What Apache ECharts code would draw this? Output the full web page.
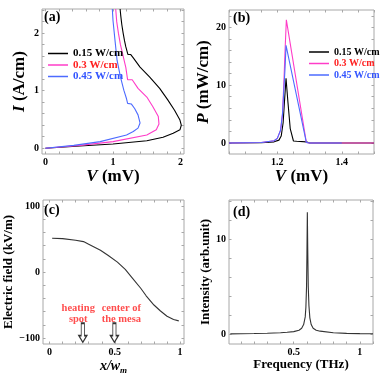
<!DOCTYPE html>
<html><head><meta charset="utf-8">
<script src="https://cdn.jsdelivr.net/npm/echarts@6/dist/echarts.min.js"></script>
<style>html,body{margin:0;padding:0;background:#fff}#c{width:382px;height:381px}</style>
</head><body><div id="c"></div>
<script>
// ---------- data ----------
const seriesNames = ['0.15 W/cm', '0.3 W/cm', '0.45 W/cm'];
// (a) I-V curves
const ivV015 = [0,0.51,1.0,1.5,1.74,1.89,1.99,2.01,1.99,1.91,1.81,1.69,1.54,1.4,1.3,1.26,1.22,1.215,1.19,1.17,1.15,1.13,1.115,1.105];
const ivI015 = [0,0.04,0.075,0.13,0.19,0.26,0.32,0.40,0.49,0.66,0.84,1.04,1.24,1.41,1.57,1.63,1.63,1.66,1.76,1.87,2.0,2.15,2.3,2.42];
const ivV03 = [0,0.51,1.0,1.5,1.64,1.68,1.67,1.59,1.5,1.37,1.284,1.216,1.19,1.15,1.11,1.08,1.055,1.04];
const ivI03 = [0,0.05,0.115,0.23,0.32,0.42,0.55,0.72,0.89,1.04,1.19,1.19,1.4,1.6,1.8,2.0,2.2,2.42];
const ivV045 = [0,0.42,0.81,1.2,1.3,1.37,1.4,1.37,1.32,1.27,1.216,1.2,1.16,1.11,1.06,1.03,1.0,0.99];
const ivI045 = [0,0.05,0.115,0.23,0.29,0.35,0.44,0.58,0.69,0.77,0.78,0.86,1.01,1.24,1.53,1.87,2.22,2.42];
// (b) P-V curves
const pvV015 = [1.05,1.15,1.19,1.205,1.212,1.218,1.222,1.227,1.233,1.24,1.25,1.26,1.29,1.3,1.5];
const pvP015 = [0,0.05,0.2,0.5,1.2,3.5,7,11.2,7,2.5,0.35,0.3,0.2,0,0];
const pvV03 = [1.05,1.15,1.19,1.2,1.21,1.216,1.22,1.224,1.228,1.29,1.3,1.5];
const pvP03 = [0,0.08,0.4,0.8,2.2,5,10,16,21.3,0.1,0,0];
const pvV045 = [1.05,1.15,1.19,1.2,1.21,1.216,1.22,1.224,1.227,1.29,1.3,1.4];
const pvP045 = [0,0.08,0.4,0.8,2.2,5,9,13,16.9,0.1,0,0];
// (c) electric field
const efX = [0.02,0.1,0.2,0.26,0.3,0.39,0.45,0.52,0.58,0.63,0.7,0.74,0.8,0.85,0.9,0.95,0.99];
const efY = [51,50.5,48,46,42,33,25,15,4,-8,-25,-36,-50,-59,-67,-72,-74];
const annoText = ['heating\nspot', 'center of\nthe mesa'];
const annoX = [0.22, 0.55];
const annoY = [-63, -63];
const arrowX = [0.255, 0.497];
const arrowY = [-92, -92];
// (d) spectrum
const fqX = [0.02,0.1,0.2,0.3,0.4,0.45,0.5,0.54,0.56,0.575,0.587,0.592,0.597,0.6,0.603,0.606,0.61,0.615,0.622,0.632,0.647,0.67,0.7,0.8,0.9,1.0,1.1];
const fqY = [0.02,0.03,0.05,0.08,0.13,0.18,0.25,0.4,0.6,1.0,1.8,2.8,5,8.5,12.8,9,5,3,1.7,1.0,0.6,0.4,0.3,0.13,0.07,0.04,0.03];
// tick labels
const aXLabels = [0,1,2], aYLabels = [0,1,2];
const bXLabels = [1.2,1.4], bYLabels = [0,10,20];
const cXLabels = [0,0.5,1], cYLabels = [-100,0,100];
const dXLabels = [0.5,1], dYLabels = [0,10];

// ---------- helpers ----------
const FONT = 'Liberation Serif';
const FRAME = '#a8a8a8';
function range(a, b, s) { const r = []; for (let v = a; v <= b + 1e-9; v += s) r.push(+v.toFixed(6)); return r; }
function fmt(v) { return v < 0 ? '\u2212' + Math.abs(v) : String(v); }
function pairs(xs, ys) { return xs.map((x, i) => [x, ys[i]]); }
function nameStyle(sz) {
  return { fontFamily: FONT, fontWeight: 'bold', fontSize: sz, color: '#000',
    rich: { i: { fontFamily: FONT, fontWeight: 'bold', fontStyle: 'italic', fontSize: sz },
            s: { fontFamily: FONT, fontWeight: 'bold', fontStyle: 'italic', fontSize: 9, verticalAlign: 'bottom', padding: [8, 0, 0, 0] } } };
}
function xAx(g, min, max, labels, ticks, name, gap, sz, top) {
  return { type: 'value', gridIndex: g, min, max, position: top ? 'top' : 'bottom',
    axisLine: { show: false, onZero: false }, splitLine: { show: false },
    axisTick: { show: true, inside: true, length: 2.5, lineStyle: { color: FRAME }, customValues: ticks },
    axisLabel: { show: !top, customValues: labels, formatter: fmt, color: '#000', fontFamily: FONT, fontWeight: 'bold', fontSize: 10, margin: 3 },
    name: top ? '' : name, nameLocation: 'middle', nameGap: gap, nameTextStyle: nameStyle(sz || 14) };
}
function yAx(g, min, max, labels, ticks, name, gap, sz, right) {
  return { type: 'value', gridIndex: g, min, max, position: right ? 'right' : 'left',
    axisLine: { show: false, onZero: false }, splitLine: { show: false },
    axisTick: { show: true, inside: true, length: 2.5, lineStyle: { color: FRAME }, customValues: ticks },
    axisLabel: { show: !right, customValues: labels, formatter: fmt, color: '#000', fontFamily: FONT, fontWeight: 'bold', fontSize: 10, margin: 3 },
    name: right ? '' : name, nameLocation: 'middle', nameRotate: 90, nameGap: gap, nameTextStyle: nameStyle(sz || 14) };
}
const COL = ['#000000', '#ff3cc8', '#4d6bff'];
const LEGTXT = ['#000000', '#ff2020', '#3355ff'];
function line(name, g, data, color) {
  return { type: 'line', name, xAxisIndex: g, yAxisIndex: g, data, showSymbol: false, symbol: 'none',
    lineStyle: { color, width: 1.1 }, itemStyle: { color }, animation: false };
}
const grids = [
  { left: 42, top: 9, width: 142, height: 145 },
  { left: 229, top: 10, width: 145, height: 144 },
  { left: 43, top: 200, width: 141, height: 144 },
  { left: 229, top: 200, width: 144, height: 144 }
].map(g => Object.assign(g, { show: true, borderColor: FRAME, borderWidth: 1, backgroundColor: '#fff' }));

const aX = [-0.05, 2.05], aY = [-0.1, 2.42];
const bX = [1.05, 1.5], bY = [-1.9, 23];
const cX = [-0.05, 1.03], cY = [-109, 109];
const dX = [0.01, 1.1], dY = [-1.05, 14.1];
const ticks = {
  ax: range(0, 2, 0.2), ay: range(0, 2.4, 0.2),
  bx: range(1.05, 1.5, 0.05), by: range(0, 22, 2),
  cx: range(0, 1, 0.1), cy: range(-100, 100, 20),
  dx: range(0.1, 1.1, 0.1), dy: range(0, 14, 2)
};
const legendBase = { orient: 'vertical', icon: 'rect', itemWidth: 20, itemHeight: 1.5, itemGap: 0.5, padding: 0 };
const legData = seriesNames.map((n, i) => ({ name: n, textStyle: { color: LEGTXT[i] } }));
const titleStyle = { fontFamily: FONT, fontWeight: 'bold', fontSize: 14, color: '#000' };

const option = {
  backgroundColor: '#fff',
  animation: false,
  title: [
    { text: '(a)', left: 44, top: 10, padding: 0, textStyle: titleStyle },
    { text: '(b)', left: 233, top: 11, padding: 0, textStyle: titleStyle },
    { text: '(c)', left: 44, top: 203, padding: 0, textStyle: titleStyle },
    { text: '(d)', left: 233, top: 205, padding: 0, textStyle: titleStyle }
  ],
  legend: [
    Object.assign({}, legendBase, { left: 48, top: 48, data: legData,
      textStyle: { fontFamily: FONT, fontWeight: 'bold', fontSize: 11 } }),
    Object.assign({}, legendBase, { left: 309, top: 47, itemGap: 1.5, data: legData,
      textStyle: { fontFamily: FONT, fontWeight: 'bold', fontSize: 10 } })
  ],
  grid: grids,
  xAxis: [
    xAx(0, aX[0], aX[1], aXLabels, ticks.ax, '{i|V} (mV)', 6, 17),
    xAx(1, bX[0], bX[1], bXLabels, ticks.bx, '{i|V} (mV)', 6, 17),
    xAx(2, cX[0], cX[1], cXLabels, ticks.cx, '{i|x/w}{s|m}', 14, 14),
    xAx(3, dX[0], dX[1], dXLabels, ticks.dx, 'Frequency (THz)', 14, 13),
    xAx(0, aX[0], aX[1], [], ticks.ax, '', 0, 14, true),
    xAx(1, bX[0], bX[1], [], ticks.bx, '', 0, 14, true),
    xAx(2, cX[0], cX[1], [], ticks.cx, '', 0, 14, true),
    xAx(3, dX[0], dX[1], [], ticks.dx, '', 0, 14, true)
  ],
  yAxis: [
    yAx(0, aY[0], aY[1], aYLabels, ticks.ay, '{i|I} (A/cm)', 14, 17),
    yAx(1, bY[0], bY[1], bYLabels, ticks.by, '{i|P} (mW/cm)', 11, 17),
    yAx(2, cY[0], cY[1], cYLabels, ticks.cy, 'Electric field (kV/m)', 13, 13),
    yAx(3, dY[0], dY[1], dYLabels, ticks.dy, 'Intensity (arb.unit)', 10, 13),
    yAx(0, aY[0], aY[1], [], ticks.ay, '', 0, 14, true),
    yAx(1, bY[0], bY[1], [], ticks.by, '', 0, 14, true),
    yAx(2, cY[0], cY[1], [], ticks.cy, '', 0, 14, true),
    yAx(3, dY[0], dY[1], [], ticks.dy, '', 0, 14, true)
  ],
  series: [
    line(seriesNames[0], 0, pairs(ivV015, ivI015), COL[0]),
    line(seriesNames[1], 0, pairs(ivV03, ivI03), COL[1]),
    line(seriesNames[2], 0, pairs(ivV045, ivI045), COL[2]),
    line(seriesNames[0], 1, pairs(pvV015, pvP015), COL[0]),
    line(seriesNames[1], 1, pairs(pvV03, pvP03), COL[1]),
    line(seriesNames[2], 1, pairs(pvV045, pvP045), COL[2]),
    line('field', 2, pairs(efX, efY), '#333'),
    line('spectrum', 3, pairs(fqX, fqY), '#333'),
    { type: 'scatter', xAxisIndex: 2, yAxisIndex: 2, silent: true, animation: false,
      symbol: 'path://M3,0 L7,0 L7,13 L10,13 L5,20 L0,13 L3,13 Z', symbolSize: [8, 19],
      itemStyle: { color: '#fff', borderColor: '#000', borderWidth: 1.2 },
      data: pairs(arrowX, arrowY) },
    { type: 'scatter', xAxisIndex: 2, yAxisIndex: 2, silent: true, animation: false,
      symbolSize: 0,
      label: { show: true, position: 'inside', formatter: p => annoText[p.dataIndex],
        color: '#ff2020', fontFamily: FONT, fontWeight: 'bold', fontSize: 10.5, lineHeight: 11, align: 'center' },
      data: pairs(annoX, annoY) }
  ]
};
echarts.init(document.getElementById('c'), null, { renderer: 'canvas' }).setOption(option);
</script></body></html>
